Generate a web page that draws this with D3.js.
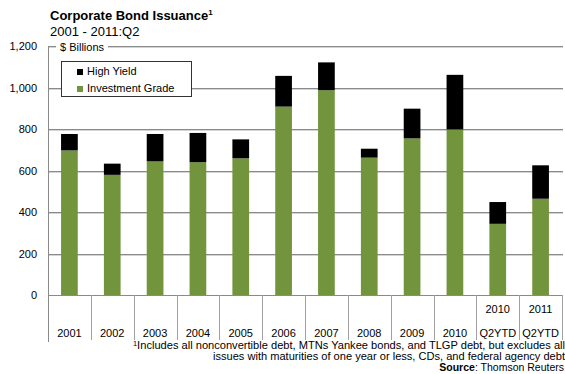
<!DOCTYPE html>
<html><head><meta charset="utf-8">
<script src="https://cdn.jsdelivr.net/npm/d3@7"></script>
<style>
html,body{margin:0;padding:0;background:#fff;}
svg{display:block;font-family:"Liberation Sans",Arial,sans-serif;}
</style></head>
<body><svg id="c" width="565" height="374"></svg>
<script>
const categories = ["2001","2002","2003","2004","2005","2006","2007","2008","2009","2010","2010 Q2YTD","2011 Q2YTD"];
const investmentGrade = [697,579,644,640,659,908,987,662,755,798,343,464];
const highYield = [79,54,132,141,91,148,134,43,143,263,105,161];
const yTicks = [0,200,400,600,800,1000,1200];
const seriesNames = ["High Yield","Investment Grade"];
const colors = {"Investment Grade":"#72943d","High Yield":"#000000"};

const svg = d3.select("#c");
const x0 = 48, x1 = 562, yTop = 46, yBot = 295;
const x = d3.scaleBand().domain(categories).range([x0, x1]).padding(0);
const y = d3.scaleLinear().domain([0,1200]).range([yBot, yTop]);

// gridlines
const grid = svg.append("g");
yTicks.forEach(t => {
  if (t === 0) return;
  grid.append("line").attr("x1",x0).attr("x2",x1+1).attr("y1",Math.round(y(t))+1.5).attr("y2",Math.round(y(t))+1.5).attr("stroke","#d4d4d4");
  grid.append("line").attr("x1",x0).attr("x2",x1+1).attr("y1",Math.round(y(t))+0.5).attr("y2",Math.round(y(t))+0.5).attr("stroke","#8a8a8a");
});

// y axis
const yAxis = svg.append("g").attr("transform",`translate(${x0},0)`)
  .call(d3.axisLeft(y).tickValues(yTicks).tickFormat(d3.format(",")).tickSize(0).tickPadding(11));
yAxis.select(".domain").remove();
yAxis.selectAll("text").attr("font-size","11px").attr("fill","#000").attr("font-family","Liberation Sans, Arial, sans-serif");
svg.append("line").attr("x1",x0+0.5).attr("x2",x0+0.5).attr("y1",yTop).attr("y2",342).attr("stroke","#8a8a8a");

// stacked bars
const data = categories.map((c,i)=>({cat:c,"Investment Grade":investmentGrade[i],"High Yield":highYield[i]}));
const stack = d3.stack().keys(["Investment Grade","High Yield"])(data);
const bw = x.bandwidth()*0.39;
svg.append("g").selectAll("g").data(stack).join("g").attr("fill",d=>colors[d.key])
  .selectAll("rect").data(d=>d).join("rect")
  .attr("x",d=>x(d.data.cat)+(x.bandwidth()-bw)/2)
  .attr("width",bw)
  .attr("y",d=>y(d[1]))
  .attr("height",d=>y(d[0])-y(d[1]));

// x baseline & category separators
svg.append("line").attr("x1",x0).attr("x2",x1+1).attr("y1",yBot+0.5).attr("y2",yBot+0.5).attr("stroke","#8a8a8a");
categories.forEach((c,i)=>{
  const xx = Math.round(x(c)+x.bandwidth())+0.5;
  svg.append("line").attr("x1",xx).attr("x2",xx).attr("y1",yBot).attr("y2",340).attr("stroke","#a0a0a0");
});
categories.forEach(c=>{
  const parts = c.split(" ");
  const cx = x(c)+x.bandwidth()/2;
  if (parts.length===2){
    svg.append("text").attr("x",cx).attr("y",313).attr("text-anchor","middle").attr("font-size","11px").text(parts[0]);
    svg.append("text").attr("x",cx).attr("y",337).attr("text-anchor","middle").attr("font-size","11px").text(parts[1]);
  } else {
    svg.append("text").attr("x",cx).attr("y",337).attr("text-anchor","middle").attr("font-size","11px").text(parts[0]);
  }
});

// $ Billions label
svg.append("rect").attr("x",56).attr("y",40).attr("width",52).attr("height",14).attr("fill","#fff");
svg.append("text").attr("x",60).attr("y",51).attr("font-size","11px").text("$ Billions");

// legend
const lg = svg.append("g");
lg.append("rect").attr("x",61.5).attr("y",61.5).attr("width",130).attr("height",35).attr("fill","#fff").attr("stroke","#333");
seriesNames.forEach((s,i)=>{
  lg.append("rect").attr("x",77).attr("y",69+i*17).attr("width",6).attr("height",6).attr("fill",colors[s]);
  lg.append("text").attr("x",87).attr("y",75+i*17).attr("font-size","11px").text(s);
});

// title
const t = svg.append("text").attr("x",50).attr("y",20).attr("font-size","13px").attr("font-weight","bold");
t.append("tspan").text("Corporate Bond Issuance");
t.append("tspan").attr("font-size","8px").attr("dy","-5").text("1");
svg.append("text").attr("x",50).attr("y",36).attr("font-size","13px").text("2001 - 2011:Q2");

// footnotes
const f1 = svg.append("text").attr("x",565).attr("y",349).attr("text-anchor","end").attr("font-size","10.5px").attr("textLength",432).attr("lengthAdjust","spacingAndGlyphs");
f1.append("tspan").attr("font-size","7px").attr("dy","-3").text("1");
f1.append("tspan").attr("dy","3").text("Includes all nonconvertible debt, MTNs Yankee bonds, and TLGP debt, but excludes all");
svg.append("text").attr("x",565).attr("y",360).attr("text-anchor","end").attr("font-size","10.5px").attr("textLength",352).attr("lengthAdjust","spacingAndGlyphs").text("issues with maturities of one year or less, CDs, and federal agency debt");
const s = svg.append("text").attr("x",564).attr("y",371).attr("text-anchor","end").attr("font-size","10.5px");
s.append("tspan").attr("font-weight","bold").text("Source");
s.append("tspan").text(": Thomson Reuters");
</script></body></html>
